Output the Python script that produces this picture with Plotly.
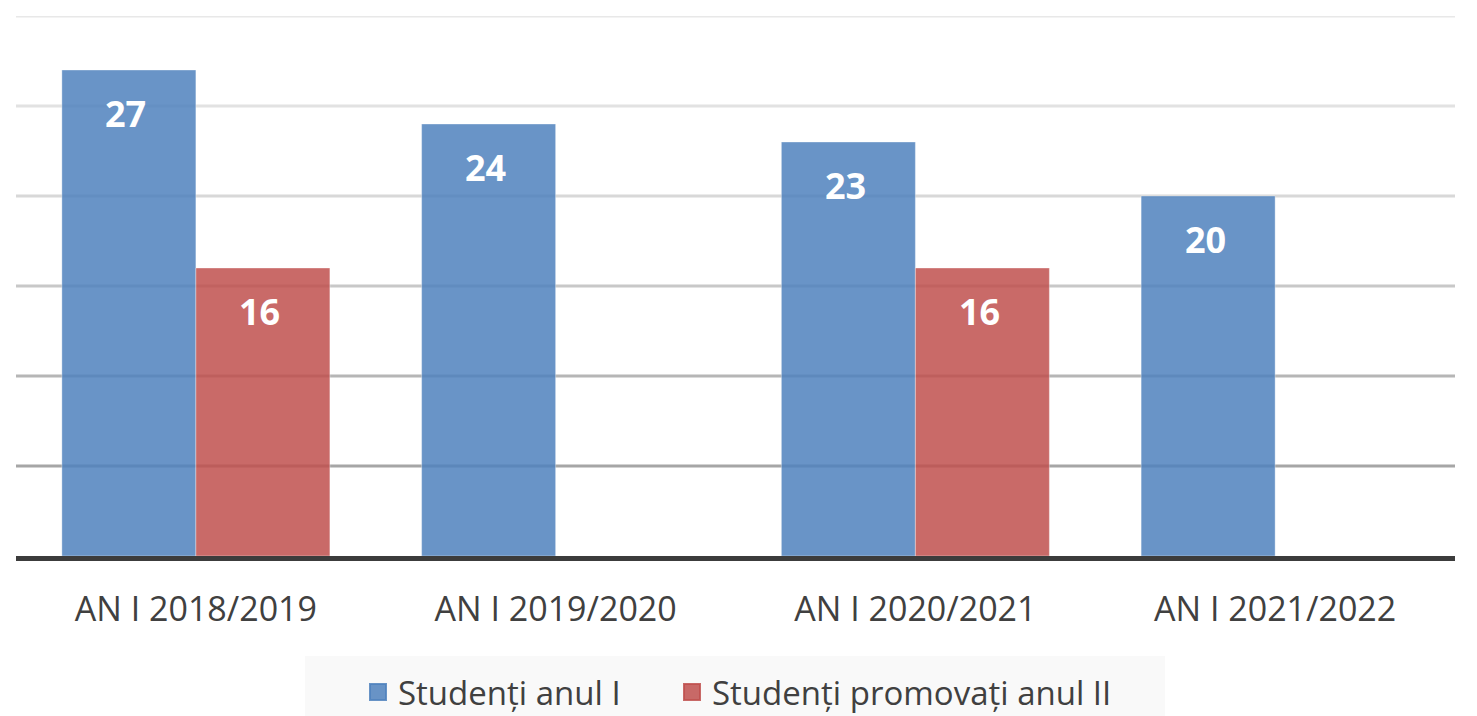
import plotly.graph_objects as go

# Date
categorii = ["AN I 2018/2019", "AN I 2019/2020", "AN I 2020/2021", "AN I 2021/2022"]
studenti_anul_1 = [27, 24, 23, 20]
promovati_anul_2 = [16, None, 16, None]
grila = [5, 10, 15, 20, 25, 30]
nume_serii = ["Studenți anul I", "Studenți promovați anul II"]

ALBASTRU = "rgba(79, 129, 189, 0.85)"
ROSU = "rgba(192, 80, 77, 0.85)"
CULORI_GRILA = ["#a6a6a6", "#b6b6b6", "#c8c8c8", "#d8d8d8", "#e2e2e2", "#e8e8e8"]
FONT = "Open Sans"

# pagina are 8px margine implicită în stânga/sus
W, H = 1461, 708
M_L, M_R, M_T, M_B = 8, 14, 8, 160
BARGAP = 0.255
LATIME_PLOT = W - M_L - M_R
INALTIME_PLOT = H - M_T - M_B


def px_x(p):
    return (p - M_L) / LATIME_PLOT


def px_y(p):
    return (H - M_B - p) / INALTIME_PLOT


fig = go.Figure()
fig.add_trace(go.Bar(
    x=categorii, y=studenti_anul_1, name=nume_serii[0], showlegend=False,
    marker=dict(color=ALBASTRU, line=dict(width=1, color="rgba(255,255,255,0.35)")),
))
fig.add_trace(go.Bar(
    x=categorii, y=promovati_anul_2, name=nume_serii[1], showlegend=False,
    marker=dict(color=ROSU, line=dict(width=1, color="rgba(255,255,255,0.35)")),
))

# intrări de legendă cu pătrate mai mari
for nume, culoare, leg in zip(nume_serii, [ALBASTRU, ROSU], ["legend", "legend2"]):
    fig.add_trace(go.Scatter(
        x=[categorii[0]], y=[None], mode="markers", name=nume, legend=leg,
        marker=dict(symbol="square", size=16, color=culoare,
                    line=dict(color=culoare, width=2)),
        hoverinfo="skip",
    ))

# etichete valori, centrate pe fiecare bară
latime_grup = LATIME_PLOT / len(categorii)
latime_bara = latime_grup * (1 - BARGAP) / 2
for serie, semn in ((studenti_anul_1, -1), (promovati_anul_2, 1)):
    for cat, val in zip(categorii, serie):
        if val is None:
            continue
        fig.add_annotation(
            x=cat, y=val, text=f"<b>{val}</b>", showarrow=False,
            xshift=semn * latime_bara / 2 - 3, yshift=-43, yanchor="middle",
            font=dict(family=FONT, size=36, color="white"),
        )

for v, c in zip(grila, CULORI_GRILA):
    fig.add_shape(
        type="line", xref="paper", x0=0, x1=1, yref="y", y0=v, y1=v,
        line=dict(color=c, width=3), layer="below",
    )

# fundalul legendei
fig.add_shape(
    type="rect", xref="paper", yref="paper",
    x0=px_x(297), x1=px_x(1157), y0=px_y(648), y1=px_y(H),
    fillcolor="#f9f9f9", line=dict(width=0), layer="below",
)

stil_legenda = dict(
    orientation="h", xanchor="left", yanchor="middle", y=px_y(684),
    bgcolor="rgba(0,0,0,0)", font=dict(size=33, color="#404040"),
    itemwidth=30,
)

fig.update_layout(
    width=W, height=H,
    margin=dict(l=M_L, r=M_R, t=M_T, b=M_B, autoexpand=False),
    barmode="group", bargap=BARGAP, bargroupgap=0,
    paper_bgcolor="white", plot_bgcolor="white",
    font=dict(family=FONT, color="#404040"),
    xaxis=dict(
        showgrid=False, showline=True, linecolor="#3c3c3c", linewidth=5,
        tickfont=dict(size=34, color="#404040"), ticks="",
        ticklabelstandoff=19, automargin=False,
    ),
    yaxis=dict(range=[0, 30], showgrid=False, showticklabels=False,
               zeroline=False, automargin=False),
    legend=dict(x=px_x(350), **stil_legenda),
    legend2=dict(x=px_x(664), **stil_legenda),
    showlegend=True,
)

fig.write_html("out.html")
